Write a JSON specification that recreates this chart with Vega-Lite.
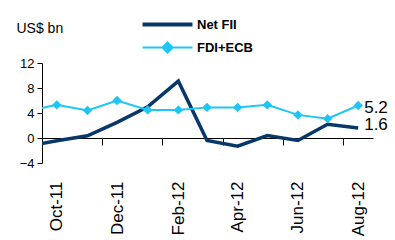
{
  "$schema": "https://vega.github.io/schema/vega-lite/v6.json",
  "width": 331,
  "height": 100,
  "autosize": {"type": "none"},
  "padding": {"left": 42, "top": 63, "right": 22, "bottom": 77},
  "config": {
    "view": {"stroke": null},
    "font": "Liberation Sans",
    "axis": {"labelFont": "Liberation Sans", "titleFont": "Liberation Sans", "labelColor": "#000000", "titleColor": "#000000", "domainColor": "#000000", "tickColor": "#000000", "grid": false, "domainWidth": 1, "tickWidth": 1}
  },
  "data": {
    "values": [
      {"date": "2011-09-01", "series": "Net FII", "value": -1.3},
      {"date": "2011-10-01", "series": "Net FII", "value": -0.45},
      {"date": "2011-11-01", "series": "Net FII", "value": 0.35},
      {"date": "2011-12-01", "series": "Net FII", "value": 2.5},
      {"date": "2012-01-01", "series": "Net FII", "value": 5.0},
      {"date": "2012-02-01", "series": "Net FII", "value": 9.1},
      {"date": "2012-03-01", "series": "Net FII", "value": -0.4},
      {"date": "2012-04-01", "series": "Net FII", "value": -1.3},
      {"date": "2012-05-01", "series": "Net FII", "value": 0.4},
      {"date": "2012-06-01", "series": "Net FII", "value": -0.4},
      {"date": "2012-07-01", "series": "Net FII", "value": 2.2},
      {"date": "2012-08-01", "series": "Net FII", "value": 1.6},
      {"date": "2011-09-01", "series": "FDI+ECB", "value": 4.3},
      {"date": "2011-10-01", "series": "FDI+ECB", "value": 5.3},
      {"date": "2011-11-01", "series": "FDI+ECB", "value": 4.4},
      {"date": "2011-12-01", "series": "FDI+ECB", "value": 6.0},
      {"date": "2012-01-01", "series": "FDI+ECB", "value": 4.5},
      {"date": "2012-02-01", "series": "FDI+ECB", "value": 4.5},
      {"date": "2012-03-01", "series": "FDI+ECB", "value": 4.9},
      {"date": "2012-04-01", "series": "FDI+ECB", "value": 4.9},
      {"date": "2012-05-01", "series": "FDI+ECB", "value": 5.3},
      {"date": "2012-06-01", "series": "FDI+ECB", "value": 3.7},
      {"date": "2012-07-01", "series": "FDI+ECB", "value": 3.1},
      {"date": "2012-08-01", "series": "FDI+ECB", "value": 5.2}
    ]
  },
  "encoding": {
    "x": {
      "field": "date",
      "type": "temporal",
      "scale": {
        "type": "utc",
        "domain": [
          {"year": 2011, "month": 9, "date": 16, "utc": true},
          {"year": 2012, "month": 8, "date": 16, "utc": true}
        ],
        "nice": false
      },
      "axis": {
        "orient": "bottom",
        "offset": -25,
        "title": null,
        "domain": true,
        "ticks": true,
        "tickSize": 7,
        "tickOffset": 45,
        "labelOffset": -45,
        "labelAngle": -90,
        "labelFontSize": 17,
        "labelPadding": 36,
        "labelFlush": false,
        "labelBound": false,
        "labelOverlap": false,
        "format": "%b-%y",
        "values": [
          {"year": 2011, "month": 10, "date": 1, "utc": true},
          {"year": 2011, "month": 12, "date": 1, "utc": true},
          {"year": 2012, "month": 2, "date": 1, "utc": true},
          {"year": 2012, "month": 4, "date": 1, "utc": true},
          {"year": 2012, "month": 6, "date": 1, "utc": true},
          {"year": 2012, "month": 8, "date": 1, "utc": true}
        ]
      }
    },
    "y": {
      "field": "value",
      "type": "quantitative",
      "scale": {"domain": [-4, 12], "nice": false, "zero": false},
      "axis": {
        "values": [-4, 0, 4, 8, 12],
        "domain": true,
        "labelOverlap": false,
        "labelFlush": false,
        "labelFontSize": 13,
        "labelPadding": 3,
        "tickSize": 5,
        "title": "US$ bn",
        "titleAngle": 0,
        "titleAlign": "left",
        "titleBaseline": "alphabetic",
        "titleX": -26,
        "titleY": -31,
        "titleFontSize": 14,
        "titleFontWeight": "normal"
      }
    }
  },
  "layer": [
    {
      "mark": {"type": "line", "clip": true},
      "encoding": {
        "color": {
          "field": "series",
          "type": "nominal",
          "scale": {"domain": ["Net FII", "FDI+ECB"], "range": ["#08386a", "#1ec6f6"]},
          "legend": {
            "title": null,
            "orient": "none",
            "legendX": 119,
            "legendY": -45,
            "symbolType": "stroke",
            "symbolSize": 2500,
            "symbolStrokeWidth": 2,
            "labelFontSize": 13,
            "labelFontWeight": "bold",
            "labelFont": "Liberation Sans",
            "labelColor": "#000000",
            "labelOffset": 23,
            "rowPadding": 5,
            "encode": {
              "symbols": {
                "update": {
                  "shape": {"signal": "datum.value === 'Net FII' ? 'stroke' : 'M-1,0H1M0,-0.2L0.2,0L0,0.2L-0.2,0Z'"},
                  "strokeWidth": {"signal": "datum.value === 'Net FII' ? 4 : 2"},
                  "fill": {"signal": "datum.value === 'Net FII' ? 'transparent' : '#1ec6f6'"}
                }
              }
            }
          }
        },
        "strokeWidth": {
          "condition": {"test": "datum.series === 'Net FII'", "value": 3.5},
          "value": 2
        }
      }
    },
    {
      "transform": [{"filter": "datum.series === 'FDI+ECB'"}],
      "mark": {"type": "point", "shape": "diamond", "filled": true, "size": 90, "color": "#1ec6f6", "opacity": 1, "clip": true}
    },
    {
      "transform": [{"filter": "datum.series === 'FDI+ECB' && utcyear(datum.date) === 2012 && utcmonth(datum.date) === 7"}],
      "mark": {"type": "text", "align": "left", "baseline": "middle", "dx": 6, "dy": 2, "fontSize": 17, "font": "Liberation Sans", "color": "#000000"},
      "encoding": {
        "text": {"field": "value", "type": "quantitative", "format": ".1f"}
      }
    },
    {
      "transform": [{"filter": "datum.series === 'Net FII' && utcyear(datum.date) === 2012 && utcmonth(datum.date) === 7"}],
      "mark": {"type": "text", "align": "left", "baseline": "middle", "dx": 6, "dy": -3, "fontSize": 17, "font": "Liberation Sans", "color": "#000000"},
      "encoding": {
        "text": {"field": "value", "type": "quantitative", "format": ".1f"}
      }
    }
  ]
}
